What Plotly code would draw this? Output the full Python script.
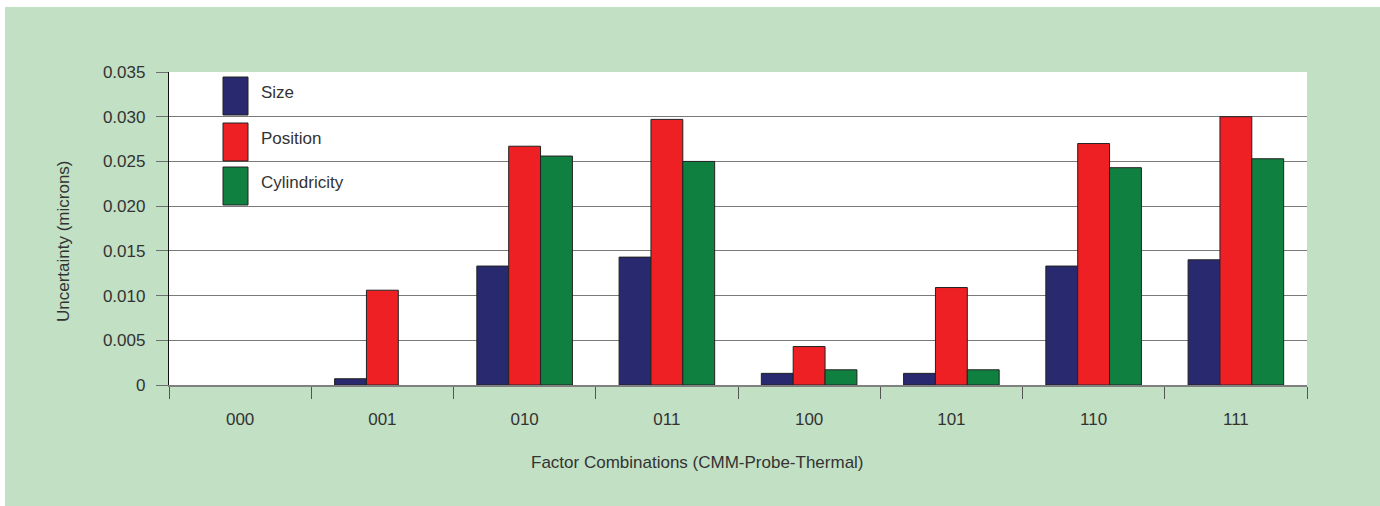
import plotly.graph_objects as go

categories = ["000", "001", "010", "011", "100", "101", "110", "111"]
size_vals = [0, 0.0007, 0.0133, 0.0143, 0.0013, 0.0013, 0.0133, 0.0140]
position_vals = [0, 0.0106, 0.0267, 0.0297, 0.0043, 0.0109, 0.0270, 0.0300]
cyl_vals = [0, 0, 0.0256, 0.0250, 0.0017, 0.0017, 0.0243, 0.0253]
series_names = ["Size", "Position", "Cylindricity"]
y_ticks = [0, 0.005, 0.010, 0.015, 0.020, 0.025, 0.030, 0.035]
y_ticktext = ["0", "0.005", "0.010", "0.015", "0.020", "0.025", "0.030", "0.035"]

colors = ["#29296F", "#EE2024", "#0F8040"]
BG = "#C2E0C3"
TXT = "#333333"
FONT = "Liberation Sans, Arial, sans-serif"

fig = go.Figure()
for name, vals, col in zip(series_names, [size_vals, position_vals, cyl_vals], colors):
    fig.add_trace(go.Bar(x=categories, y=vals, name=name,
                         marker=dict(color=col,
                                     line=dict(color="#222222",
                                               width=[1 if v else 0 for v in vals]))))

# plot area in page px: x 169..1307, y 72..385 ; figure placed at (5,7)
W, H = 1375, 499
fig.update_layout(
    width=W, height=H,
    margin=dict(l=164, r=W - 1302, t=65, b=H - 378, pad=0),
    paper_bgcolor=BG, plot_bgcolor="white",
    barmode="group", bargap=0.328, bargroupgap=0,
    showlegend=False,
    font=dict(family=FONT, size=17, color=TXT),
)
fig.update_xaxes(
    type="category", tickson="boundaries", ticks="outside", ticklen=12,
    tickcolor="#555555", tickwidth=1.3,
    showline=True, linecolor="#808080", linewidth=1.5,
    showgrid=False, ticklabelstandoff=18,
    tickfont=dict(family=FONT, size=17, color=TXT),
)
fig.update_yaxes(
    range=[0, 0.035], tickvals=y_ticks, ticktext=y_ticktext,
    ticks="outside", ticklen=12, tickcolor="#6e6e6e", tickwidth=1.3,
    showgrid=True, gridcolor="#7a7a7a", gridwidth=1.3,
    zeroline=False,
    showline=True, linecolor="#111111", linewidth=1.3,
    ticklabelstandoff=7,
    tickfont=dict(family=FONT, size=17, color=TXT),
)

# axis titles as annotations
fig.add_annotation(text="Uncertainty (microns)", textangle=-90, xref="paper", yref="paper",
                   x=(63 - 169) / 1138, y=(385 - 241) / 313, xanchor="center", yanchor="middle",
                   showarrow=False, font=dict(family=FONT, size=17, color=TXT))
fig.add_annotation(text="Factor Combinations (CMM-Probe-Thermal)", xref="paper", yref="paper",
                   x=(697 - 169) / 1138, y=(385 - 462) / 313, xanchor="center", yanchor="middle",
                   showarrow=False, font=dict(family=FONT, size=17, color=TXT))

# custom legend
sw_x0, sw_x1 = (223 - 169) / 1138, (248 - 169) / 1138
tops = [77, 123, 167]
for name, col, top in zip(series_names, colors, tops):
    bot = top + 38
    fig.add_shape(type="rect", xref="paper", yref="paper",
                  x0=sw_x0, x1=sw_x1, y0=(385 - bot) / 313, y1=(385 - top) / 313,
                  fillcolor=col, line=dict(color="#222222", width=1), layer="above")
    fig.add_annotation(text=name, xref="paper", yref="paper",
                       x=(259 - 169) / 1138, y=(385 - ((top + bot) / 2 - 3.5)) / 313,
                       xanchor="left", yanchor="middle", showarrow=False,
                       font=dict(family=FONT, size=17, color=TXT))

fig.write_html("out.html", post_script="document.body.style.margin='7px 0 0 5px';document.body.style.overflow='hidden';")
